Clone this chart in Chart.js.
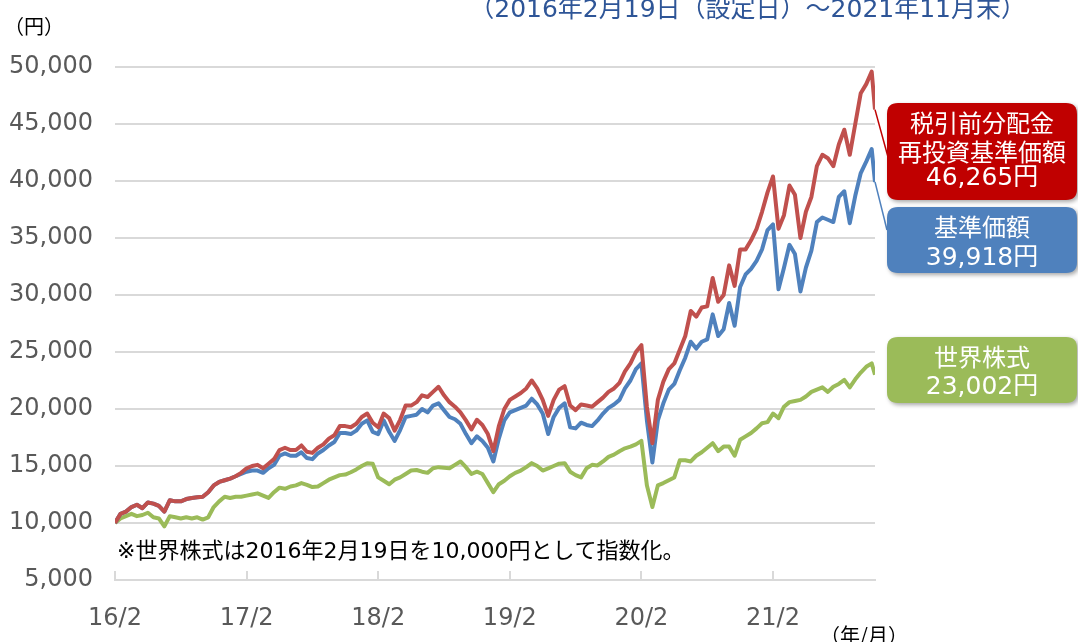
<!DOCTYPE html>
<html lang="ja">
<head>
<meta charset="utf-8">
<script src="https://cdn.jsdelivr.net/npm/chart.js@4.4.1/dist/chart.umd.min.js"></script>
<style>
html,body{margin:0;padding:0;background:#fff;}
#wrap{width:1078px;height:642px;position:relative;}
</style>
</head>
<body>
<div id="wrap"><canvas id="chart" width="1078" height="642"></canvas></div>
<script>
// months since 2016/2/19 (setting date), half-month steps, last point = end of Nov 2021
var months = [0,0.5,1,1.5,2,2.5,3,3.5,4,4.5,5,5.5,6,6.5,7,7.5,8,8.5,9,9.5,
	10,10.5,11,11.5,12,12.5,13,13.5,14,14.5,15,15.5,16,16.5,17,17.5,18,18.5,19,19.5,
	20,20.5,21,21.5,22,22.5,23,23.5,24,24.5,25,25.5,26,26.5,27,27.5,28,28.5,29,29.5,
	30,30.5,31,31.5,32,32.5,33,33.5,34,34.5,35,35.5,36,36.5,37,37.5,38,38.5,39,39.5,
	40,40.5,41,41.5,42,42.5,43,43.5,44,44.5,45,45.5,46,46.5,47,47.5,48,48.5,49,49.5,
	50,50.5,51,51.5,52,52.5,53,53.5,54,54.5,55,55.5,56,56.5,57,57.5,58,58.5,59,59.5,
	60,60.5,61,61.5,62,62.5,63,63.5,64,64.5,65,65.5,66,66.5,67,67.5,68,68.5,69,69.3];

var tickMonths = [0, 12, 24, 36, 48, 60];
var tickLabels = ['16/2', '17/2', '18/2', '19/2', '20/2', '21/2'];

// 税引前分配金再投資基準価額
var reinvested = [10000,10800,11000,11400,11600,11300,11800,11700,11500,11000,
	12000,11900,11900,12100,12200,12250,12300,12700,13300,13600,
	13750,13900,14100,14400,14800,15000,15100,14800,15200,15600,
	16400,16600,16400,16400,16800,16250,16150,16600,16900,17400,
	17700,18500,18500,18400,18700,19300,19600,18800,18400,19600,
	19200,18100,19050,20300,20300,20600,21200,21050,21500,21950,
	21200,20600,20200,19700,19000,18200,19050,18600,17800,16300,
	18500,20000,20800,21100,21400,21800,22500,21800,20800,19400,
	20800,21700,22000,20300,19900,20400,20300,20200,20600,21000,
	21500,21800,22300,23300,24000,25000,25600,20200,17000,20800,
	22400,23500,24000,25200,26400,28600,28100,28900,29000,31500,
	29400,30000,32600,30800,34000,34000,34800,35800,37300,39000,
	40400,35800,37000,39600,38800,35000,37300,38600,41300,42300,
	42000,41300,43200,44500,42300,45000,47700,48500,49600,46265];

// 基準価額
var nav = [10000,10800,11000,11400,11600,11300,11800,11700,11500,11000,
	12000,11900,11900,12100,12200,12250,12300,12700,13300,13600,
	13750,13900,14100,14300,14500,14600,14600,14400,14800,15100,
	15900,16100,15900,15900,16200,15700,15600,16100,16400,16800,
	17100,17900,17900,17800,18100,18700,19000,18000,17800,19000,
	18000,17200,18150,19300,19400,19500,20000,19700,20300,20500,
	19900,19300,19100,18700,17800,17000,17600,17200,16600,15400,
	17400,19000,19700,19900,20100,20300,20900,20400,19600,17800,
	19300,20100,20500,18400,18300,18800,18600,18500,19000,19600,
	20100,20400,20800,21800,22500,23500,24000,19000,15300,19000,
	20500,21700,22200,23400,24500,25900,25300,25900,26100,28300,
	26400,27000,29300,27300,30700,31800,32300,33000,34000,35700,
	36200,30500,32400,34400,33600,30300,32400,33900,36400,36800,
	36600,36400,38600,39100,36300,38700,40700,41700,42800,39918];

// 世界株式 (2016/2/19 = 10,000)
var world = [10000,10400,10600,10800,10600,10700,10900,10500,10400,9700,
	10600,10500,10400,10500,10400,10500,10300,10500,11400,11900,
	12300,12200,12300,12300,12400,12500,12600,12400,12200,12700,
	13100,13000,13200,13300,13500,13350,13150,13200,13500,13800,
	14000,14200,14250,14450,14700,15000,15250,15200,14000,13700,
	13400,13800,14000,14300,14600,14650,14500,14400,14800,14900,
	14850,14800,15100,15400,14900,14300,14500,14300,13500,12700,
	13400,13700,14100,14400,14600,14900,15250,15000,14600,14800,
	15000,15200,15250,14500,14200,14000,14800,15100,15050,15400,
	15800,16000,16300,16550,16700,16900,17200,13300,11400,13300,
	13500,13750,14000,15500,15500,15400,15900,16200,16600,17000,
	16300,16700,16700,15900,17300,17600,17900,18300,18750,18850,
	19600,19200,20200,20600,20700,20800,21100,21500,21700,21900,
	21500,21950,22200,22550,21900,22600,23200,23700,24000,23002];

var JP = "'Noto Sans CJK JP', sans-serif";
var MIX = "'DejaVu Sans', 'Noto Sans CJK JP', sans-serif";

function toPoints(arr) {
	return months.map(function(m, i){ return {x: m, y: arr[i]}; });
}

function roundRect(ctx, x, y, w, h, r) {
	ctx.beginPath();
	ctx.moveTo(x + r, y);
	ctx.lineTo(x + w - r, y);
	ctx.quadraticCurveTo(x + w, y, x + w, y + r);
	ctx.lineTo(x + w, y + h - r);
	ctx.quadraticCurveTo(x + w, y + h, x + w - r, y + h);
	ctx.lineTo(x + r, y + h);
	ctx.quadraticCurveTo(x, y + h, x, y + h - r);
	ctx.lineTo(x, y + r);
	ctx.quadraticCurveTo(x, y, x + r, y);
	ctx.closePath();
}

// callout boxes on the right
var callouts = [
	{ds: 0, x: 887, y: 103, w: 190, h: 97, color: '#c00000', names: ['税引前分配金', '再投資基準価額'], nameY: [123, 152], valueY: 178, link: [888, 157]},
	{ds: 1, x: 887, y: 207, w: 190, h: 66, color: '#4f81bd', names: ['基準価額'], nameY: [227], valueY: 258, link: [887, 230]},
	{ds: 2, x: 887, y: 337, w: 190, h: 66, color: '#9bbb59', names: ['世界株式'], nameY: [357], valueY: 387, link: null}
];

var extras = {
	id: 'extras',
	afterDraw: function(chart) {
		var ctx = chart.ctx;
		var xs = chart.scales.x;
		var area = chart.chartArea;
		ctx.save();

		// inward tick marks on the x axis
		ctx.strokeStyle = '#d9d9d9';
		ctx.lineWidth = 2;
		tickMonths.forEach(function(m){
			var px = Math.round(xs.getPixelForValue(m));
			ctx.beginPath();
			ctx.moveTo(px, area.bottom - 9);
			ctx.lineTo(px, area.bottom);
			ctx.stroke();
		});

		// texts
		ctx.fillStyle = '#2e5597';
		ctx.font = '25px ' + MIX;
		ctx.textAlign = 'right';
		ctx.textBaseline = 'alphabetic';
		ctx.fillText('（2016年2月19日（設定日）～2021年11月末）', 1026, 17);

		ctx.fillStyle = '#000';
		ctx.font = '20px ' + JP;
		ctx.textAlign = 'center';
		ctx.textBaseline = 'middle';
		ctx.fillText('（円）', 34, 26);
		ctx.fillText('（年/月）', 864, 635);

		ctx.font = '22px ' + MIX;
		ctx.textAlign = 'left';
		ctx.fillText('※世界株式は2016年2月19日を10,000円として指数化。', 117, 552);

		// connectors
		callouts.forEach(function(c){
			if (!c.link) return;
			var meta = chart.getDatasetMeta(c.ds);
			var last = meta.data[meta.data.length - 1];
			ctx.strokeStyle = c.color;
			ctx.lineWidth = 1.5;
			ctx.beginPath();
			ctx.moveTo(last.x, last.y);
			ctx.lineTo(c.link[0], c.link[1]);
			ctx.stroke();
		});

		// boxes
		callouts.forEach(function(c){
			var data = chart.data.datasets[c.ds].data;
			var v = data[data.length - 1].y;
			ctx.save();
			ctx.shadowColor = 'rgba(0,0,0,0.35)';
			ctx.shadowBlur = 4;
			ctx.shadowOffsetX = 2;
			ctx.shadowOffsetY = 2;
			ctx.fillStyle = c.color;
			roundRect(ctx, c.x, c.y, c.w, c.h, 11);
			ctx.fill();
			ctx.restore();

			ctx.fillStyle = '#fff';
			ctx.textAlign = 'center';
			ctx.textBaseline = 'middle';
			var cx = c.x + c.w / 2;
			ctx.font = '24px ' + JP;
			c.names.forEach(function(n, i){ ctx.fillText(n, cx, c.nameY[i]); });
			ctx.font = '25px ' + MIX;
			ctx.fillText(v.toLocaleString('en-US') + '円', cx, c.valueY);
		});

		ctx.restore();
	}
};

var ctx = document.getElementById('chart').getContext('2d');
var chart = new Chart(ctx, {
	type: 'line',
	data: {
		datasets: [
			{
				label: '税引前分配金再投資基準価額',
				data: toPoints(reinvested),
				borderColor: '#c0504d',
				borderWidth: 4,
				pointRadius: 0,
				tension: 0,
				borderJoinStyle: 'round'
			},
			{
				label: '基準価額',
				data: toPoints(nav),
				borderColor: '#4f81bd',
				borderWidth: 4,
				pointRadius: 0,
				tension: 0,
				borderJoinStyle: 'round'
			},
			{
				label: '世界株式',
				data: toPoints(world),
				borderColor: '#9bbb59',
				borderWidth: 4,
				pointRadius: 0,
				tension: 0,
				borderJoinStyle: 'round'
			}
		]
	},
	options: {
		responsive: false,
		animation: false,
		layout: {padding: {left: 0, right: 203, top: 67, bottom: 0}},
		plugins: {
			legend: {display: false},
			tooltip: {enabled: false}
		},
		scales: {
			x: {
				type: 'linear',
				min: 0,
				max: 69.3,
				afterBuildTicks: function(s){
					s.ticks = tickMonths.map(function(m){ return {value: m}; });
				},
				afterFit: function(s){ s.height = 62; },
				grid: {display: false, drawTicks: false},
				border: {display: true, color: '#d9d9d9', width: 2},
				ticks: {
					autoSkip: false,
					maxRotation: 0,
					padding: 24,
					color: '#595959',
					font: {family: MIX, size: 24},
					callback: function(v){
						var i = tickMonths.indexOf(v);
						return i >= 0 ? tickLabels[i] : '';
					}
				}
			},
			y: {
				min: 5000,
				max: 50000,
				afterFit: function(s){ s.width = 115; },
				grid: {color: '#d9d9d9', lineWidth: 2, drawTicks: false},
				border: {display: false},
				ticks: {
					stepSize: 5000,
					padding: 22,
					color: '#595959',
					font: {family: MIX, size: 24},
					callback: function(v){ return v.toLocaleString('en-US'); }
				}
			}
		}
	},
	plugins: [extras]
});
</script>
</body>
</html>
